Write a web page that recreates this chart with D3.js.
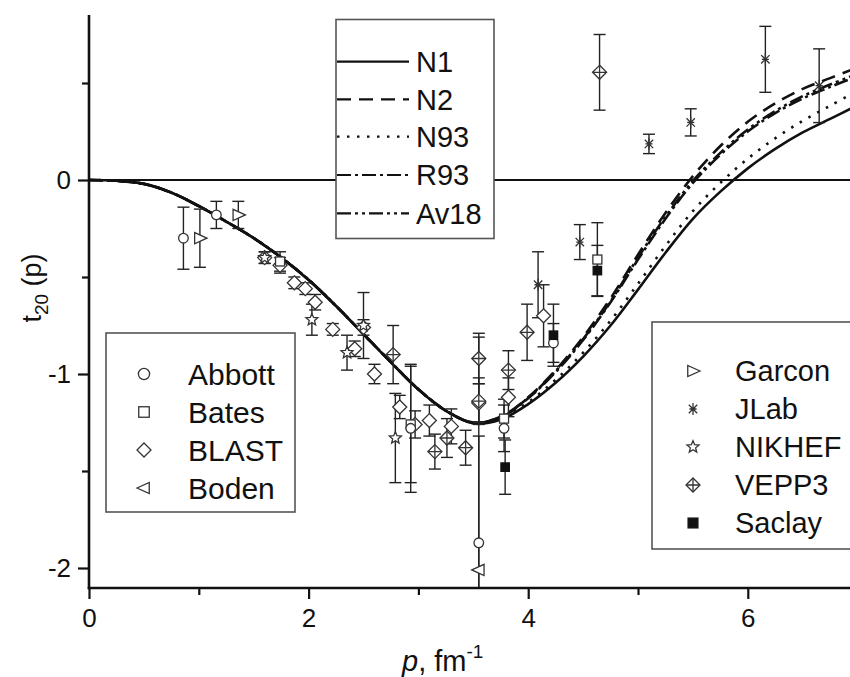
<!DOCTYPE html>
<html>
<head>
<meta charset="utf-8">
<script src="https://cdn.jsdelivr.net/npm/d3@7"></script>
<style>
  html, body { margin: 0; padding: 0; background: #fff; }
  svg { display: block; font-family: "Liberation Sans", Arial, Helvetica, sans-serif; }
</style>
</head>
<body>
<svg id="chart" width="850" height="677"></svg>
<script>
// ---------------- DATA ----------------
const pGrid = [0, 0.25, 0.5, 0.75, 1, 1.25, 1.5, 1.75, 2, 2.25, 2.5, 2.75, 3, 3.25, 3.5, 3.75, 4, 4.25, 4.5, 4.75, 5, 5.25, 5.5, 5.75, 6, 6.25, 6.5, 6.75, 7];
const curveN1   = [0, -0.004, -0.02, -0.065, -0.135, -0.215, -0.30, -0.40, -0.515, -0.65, -0.795, -0.94, -1.08, -1.19, -1.255, -1.235, -1.155, -1.045, -0.91, -0.75, -0.565, -0.375, -0.20, -0.06, 0.06, 0.16, 0.245, 0.315, 0.385];
const curveN2   = [0, -0.004, -0.02, -0.065, -0.134, -0.214, -0.299, -0.399, -0.514, -0.649, -0.794, -0.939, -1.079, -1.188, -1.25, -1.22, -1.12, -0.98, -0.81, -0.61, -0.385, -0.17, 0.02, 0.175, 0.30, 0.395, 0.47, 0.525, 0.58];
const curveN93  = [0, -0.004, -0.02, -0.065, -0.135, -0.215, -0.30, -0.40, -0.515, -0.65, -0.795, -0.94, -1.08, -1.19, -1.253, -1.23, -1.145, -1.03, -0.89, -0.725, -0.535, -0.34, -0.16, -0.015, 0.11, 0.215, 0.305, 0.383, 0.46];
const curveR93  = [0, -0.004, -0.02, -0.065, -0.134, -0.214, -0.299, -0.399, -0.514, -0.649, -0.794, -0.939, -1.079, -1.189, -1.251, -1.223, -1.125, -0.99, -0.825, -0.63, -0.41, -0.20, -0.015, 0.13, 0.25, 0.345, 0.42, 0.48, 0.535];
const curveAv18 = [0, -0.004, -0.02, -0.065, -0.134, -0.214, -0.299, -0.399, -0.514, -0.649, -0.794, -0.939, -1.079, -1.189, -1.251, -1.222, -1.123, -0.985, -0.82, -0.625, -0.40, -0.19, -0.005, 0.14, 0.26, 0.355, 0.432, 0.492, 0.548];

const curveNames = ["N1", "N2", "N93", "R93", "Av18"];

const abbottP = [0.86, 1.16, 2.93, 3.55, 3.78, 4.23];
const abbottT = [-0.30, -0.18, -1.28, -1.87, -1.28, -0.84];
const abbottE = [0.16, 0.07, 0.33, 0.55, 0.12, 0.10];

const batesP = [1.74, 2.93, 3.78, 4.63];
const batesT = [-0.42, -1.26, -1.23, -0.41];
const batesE = [0.05, 0.30, 0.10, 0.19];

const blastP = [1.60, 1.74, 1.87, 1.97, 2.06, 2.22, 2.42, 2.50, 2.60, 2.83, 2.97, 3.10, 3.30, 3.55, 3.82, 4.14];
const blastT = [-0.40, -0.44, -0.53, -0.56, -0.63, -0.77, -0.87, -0.76, -1.00, -1.17, -1.26, -1.24, -1.27, -1.15, -1.12, -0.70];
const blastE = [0.03, 0.04, 0.03, 0.03, 0.04, 0.03, 0.04, 0.04, 0.05, 0.06, 0.07, 0.08, 0.09, 0.10, 0.10, 0.16];

const bodenP = [3.55];
const bodenT = [-2.01];
const bodenE = [1.2];

const garconP = [1.01, 1.36];
const garconT = [-0.30, -0.18];
const garconE = [0.15, 0.07];

const jlabP = [4.09, 4.47, 5.10, 5.48, 6.16, 6.65];
const jlabT = [-0.54, -0.32, 0.186, 0.297, 0.622, 0.486];
const jlabE = [0.17, 0.09, 0.05, 0.07, 0.17, 0.19];

const nikhefP = [1.60, 2.03, 2.35, 2.50, 2.79];
const nikhefT = [-0.40, -0.72, -0.89, -0.75, -1.33];
const nikhefE = [0.03, 0.08, 0.09, 0.17, 0.23];

const vepp3P = [2.77, 3.15, 3.26, 3.43, 3.55, 3.55, 3.82, 3.99, 4.65];
const vepp3T = [-0.90, -1.40, -1.33, -1.38, -0.92, -1.14, -0.98, -0.785, 0.555];
const vepp3E = [0.15, 0.09, 0.10, 0.09, 0.13, 0.12, 0.10, 0.145, 0.195];

const saclayP = [3.79, 4.23, 4.63];
const saclayT = [-1.48, -0.80, -0.467];
const saclayE = [0.14, 0.16, 0.13];

const xMajorTicks = [0, 2, 4, 6];
const xMinorTicks = [1, 3, 5];
const yMajorTicks = [-2, -1, 0];
const yMinorTicks = [-1.5, -0.5, 0.5];

const legendLeft  = ["Abbott", "Bates", "BLAST", "Boden"];
const legendRight = ["Garcon", "JLab", "NIKHEF", "VEPP3", "Saclay"];

// ---------------- LAYOUT ----------------
const svg = d3.select("#chart");
const X0 = 89, Y0 = 588;
const x = d3.scaleLinear().domain([0, 7]).range([89, 857.6]);
const y = d3.scaleLinear().domain([-2.1, 0.85]).range([587.4, 15.1]);

svg.append("rect").attr("width", 850).attr("height", 677).attr("fill", "#fff");

svg.append("defs").append("clipPath").attr("id", "plotclip")
  .append("rect").attr("x", X0).attr("y", 14).attr("width", 770).attr("height", Y0 - 14);

// zero line
svg.append("line").attr("x1", X0).attr("x2", 850).attr("y1", y(0)).attr("y2", y(0))
  .attr("stroke", "#111").attr("stroke-width", 2);

const plot = svg.append("g").attr("clip-path", "url(#plotclip)");

// curves
const curveData = [curveN1, curveN2, curveN93, curveR93, curveAv18];
const dashes = [null, "14,8", "2.5,7.5", "14,4,3,4", "14,4,3,4,3,4"];
const line = d3.line().x(d => x(d[0])).y(d => y(d[1])).curve(d3.curveCatmullRom.alpha(0.5));
curveData.forEach((vals, i) => {
  plot.append("path")
    .datum(pGrid.map((p, j) => [p, vals[j]]))
    .attr("d", line)
    .attr("fill", "none")
    .attr("stroke", "#111")
    .attr("stroke-width", 2.6)
    .attr("stroke-dasharray", dashes[i]);
});

// symbols
function drawSymbol(g, type, cx, cy, s) {
  const gg = g.append("g").attr("transform", `translate(${cx},${cy})`)
    .attr("fill", "none").attr("stroke", "#333").attr("stroke-width", 1.3);
  if (type === "circle") {
    gg.append("circle").attr("r", s * 0.8).attr("fill", "#fff");
  } else if (type === "square") {
    gg.append("rect").attr("x", -s * 0.75).attr("y", -s * 0.75).attr("width", s * 1.5).attr("height", s * 1.5).attr("fill", "#fff");
  } else if (type === "diamond") {
    gg.append("path").attr("d", `M0,${-s}L${s},0L0,${s}L${-s},0Z`).attr("fill", "#fff");
  } else if (type === "ltri") {
    gg.append("path").attr("d", `M${-s},0L${s * 0.75},${-s * 0.8}L${s * 0.75},${s * 0.8}Z`).attr("fill", "#fff");
  } else if (type === "rtri") {
    gg.append("path").attr("d", `M${s},0L${-s * 0.75},${-s * 0.8}L${-s * 0.75},${s * 0.8}Z`).attr("fill", "#fff");
  } else if (type === "asterisk") {
    const r = s * 0.85, d = r * 0.707;
    gg.append("path").attr("d",
      `M0,${-r}L0,${r}M${-d},${-d}L${d},${d}M${-d},${d}L${d},${-d}M${-r * 0.6},0L${r * 0.6},0`);
  } else if (type === "star") {
    const pts = [];
    for (let k = 0; k < 10; k++) {
      const rr = k % 2 === 0 ? s * 0.9 : s * 0.4;
      const a = -Math.PI / 2 + k * Math.PI / 5;
      pts.push([rr * Math.cos(a), rr * Math.sin(a)]);
    }
    gg.append("path").attr("d", "M" + pts.map(q => q.join(",")).join("L") + "Z").attr("fill", "#fff");
  } else if (type === "vepp") {
    gg.append("path").attr("d", `M0,${-s}L${s},0L0,${s}L${-s},0Z`).attr("fill", "#fff");
    gg.append("path").attr("d", `M0,${-s}L0,${s}M${-s},0L${s},0`);
  } else if (type === "fsquare") {
    gg.append("rect").attr("x", -s * 0.7).attr("y", -s * 0.7).attr("width", s * 1.4).attr("height", s * 1.4)
      .attr("fill", "#111").attr("stroke", "#111");
  }
}

const datasets = [
  { type: "diamond", P: blastP, T: blastT, E: blastE, s: 7 },
  { type: "square", P: batesP, T: batesT, E: batesE, s: 6 },
  { type: "circle", P: abbottP, T: abbottT, E: abbottE, s: 6 },
  { type: "ltri", P: bodenP, T: bodenT, E: bodenE, s: 7 },
  { type: "rtri", P: garconP, T: garconT, E: garconE, s: 7 },
  { type: "vepp", P: vepp3P, T: vepp3T, E: vepp3E, s: 7 },
  { type: "star", P: nikhefP, T: nikhefT, E: nikhefE, s: 7 },
  { type: "asterisk", P: jlabP, T: jlabT, E: jlabE, s: 7 },
  { type: "fsquare", P: saclayP, T: saclayT, E: saclayE, s: 6 }
];

// error bars
const eb = plot.append("g").attr("stroke", "#222").attr("stroke-width", 1.4);
datasets.forEach(ds => {
  ds.P.forEach((p, i) => {
    const cx = x(p), y1 = y(ds.T[i] + ds.E[i]), y2 = y(ds.T[i] - ds.E[i]);
    eb.append("line").attr("x1", cx).attr("x2", cx).attr("y1", y1).attr("y2", y2);
    eb.append("line").attr("x1", cx - 6).attr("x2", cx + 6).attr("y1", y1).attr("y2", y1);
    eb.append("line").attr("x1", cx - 6).attr("x2", cx + 6).attr("y1", y2).attr("y2", y2);
  });
});
// markers
datasets.forEach(ds => {
  ds.P.forEach((p, i) => drawSymbol(plot, ds.type, x(p), y(ds.T[i]), ds.s));
});

// axes
const fontTick = 26;
const xMajor = svg.append("g").attr("transform", `translate(0,${Y0})`)
  .call(d3.axisBottom(x).tickValues(xMajorTicks).tickSize(11).tickSizeOuter(0).tickPadding(10).tickFormat(d => String(d)));
const xMinor = svg.append("g").attr("transform", `translate(0,${Y0})`)
  .call(d3.axisBottom(x).tickValues(xMinorTicks).tickSize(7).tickSizeOuter(0).tickFormat(""));
const yMajor = svg.append("g").attr("transform", `translate(${X0},0)`)
  .call(d3.axisLeft(y).tickValues(yMajorTicks).tickSize(11).tickSizeOuter(0).tickPadding(7).tickFormat(d => String(d)));
const yMinor = svg.append("g").attr("transform", `translate(${X0},0)`)
  .call(d3.axisLeft(y).tickValues(yMinorTicks).tickSize(7).tickSizeOuter(0).tickFormat(""));

[xMajor, xMinor, yMajor, yMinor].forEach(g => {
  g.select(".domain").attr("stroke", "#111").attr("stroke-width", 2.6);
  g.selectAll(".tick line").attr("stroke", "#111").attr("stroke-width", 2.2);
  g.selectAll(".tick text").attr("font-size", fontTick).attr("fill", "#111")
    .attr("font-family", "'Liberation Sans', Arial, sans-serif");
});
xMajor.select(".domain").attr("d", `M${X0 - 1.3},0H850`);
xMinor.select(".domain").remove();
yMinor.select(".domain").remove();
yMajor.select(".domain").attr("d", `M0,15V${Y0 + 1.3}`);

// axis titles
const yt = svg.append("text").attr("transform", "translate(41,288) rotate(-90)")
  .attr("text-anchor", "middle").attr("font-size", 27).attr("fill", "#111");
yt.append("tspan").text("t");
yt.append("tspan").attr("dy", 7).attr("font-size", 19).text("20");
yt.append("tspan").attr("dy", -7).text(" (p)");

const xt = svg.append("text").attr("x", 402).attr("y", 671).attr("font-size", 29).attr("fill", "#111");
xt.append("tspan").attr("font-style", "italic").text("p");
xt.append("tspan").text(", fm");
xt.append("tspan").attr("dy", -13).attr("font-size", 19).text("-1");

// legends
const legFont = 29;
const l1 = svg.append("g");
l1.append("rect").attr("x", 336).attr("y", 19.5).attr("width", 158).attr("height", 219)
  .attr("fill", "#fff").attr("stroke", "#555").attr("stroke-width", 1.6);
const l1y = [61.7, 99.3, 136.7, 175, 213.3];
curveNames.forEach((name, i) => {
  l1.append("line").attr("x1", 337).attr("x2", 409).attr("y1", l1y[i]).attr("y2", l1y[i])
    .attr("stroke", "#111").attr("stroke-width", 2.2).attr("stroke-dasharray", dashes[i]);
  l1.append("text").attr("x", 416).attr("y", l1y[i]).attr("dy", "0.36em")
    .attr("font-size", legFont).attr("fill", "#111").text(name);
});

const leftTypes = ["circle", "square", "diamond", "ltri"];
const l2 = svg.append("g");
l2.append("rect").attr("x", 106).attr("y", 333).attr("width", 189).attr("height", 179)
  .attr("fill", "#fff").attr("stroke", "#555").attr("stroke-width", 1.6);
const l2y = [374, 412, 450, 488];
legendLeft.forEach((name, i) => {
  drawSymbol(l2, leftTypes[i], 144, l2y[i], 7);
  l2.append("text").attr("x", 188).attr("y", l2y[i]).attr("dy", "0.36em")
    .attr("font-size", legFont + 1).attr("fill", "#111").text(name);
});

const rightTypes = ["rtri", "asterisk", "star", "vepp", "fsquare"];
const l3 = svg.append("g");
l3.append("rect").attr("x", 652).attr("y", 322).attr("width", 220).attr("height", 227)
  .attr("fill", "#fff").attr("stroke", "#555").attr("stroke-width", 1.6);
const l3y = [371, 409, 447, 485, 523];
legendRight.forEach((name, i) => {
  drawSymbol(l3, rightTypes[i], 693, l3y[i], 7);
  l3.append("text").attr("x", 735).attr("y", l3y[i]).attr("dy", "0.36em")
    .attr("font-size", legFont).attr("fill", "#111").text(name);
});
</script>
</body>
</html>
